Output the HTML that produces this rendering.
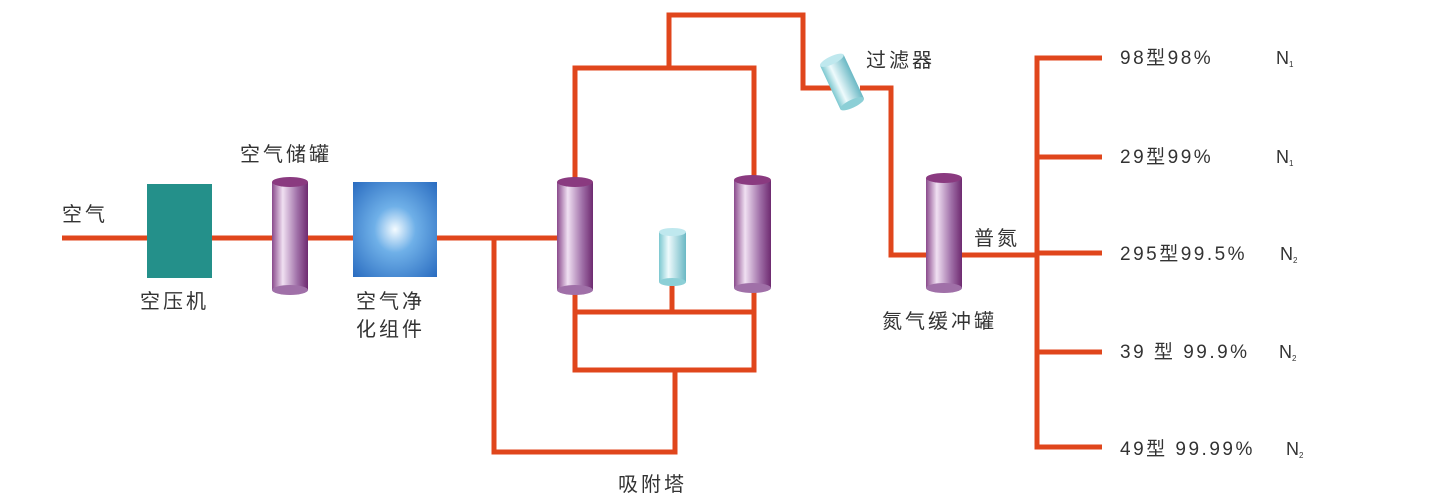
<!DOCTYPE html>
<html><head><meta charset="utf-8"><style>
html,body{margin:0;padding:0;background:#fff;}
svg{display:block;}
text{font-family:"Liberation Sans","Noto Sans CJK SC",sans-serif;fill:#333;}
</style></head><body>
<svg width="1430" height="500" viewBox="0 0 1430 500" xmlns="http://www.w3.org/2000/svg">
<defs>
<linearGradient id="pur" x1="0" x2="1" y1="0" y2="0">
<stop offset="0" stop-color="#8a4a8c"/><stop offset="0.3" stop-color="#f0e0f2"/><stop offset="0.7" stop-color="#a070a8"/><stop offset="1" stop-color="#6e2a70"/>
</linearGradient>
<linearGradient id="cy" x1="0" x2="1" y1="0" y2="0">
<stop offset="0" stop-color="#7cc8d0"/><stop offset="0.35" stop-color="#eefafc"/><stop offset="1" stop-color="#6ab8c4"/>
</linearGradient>
<radialGradient id="blue" cx="0.5" cy="0.5" r="0.7">
<stop offset="0" stop-color="#f4fbff"/><stop offset="0.35" stop-color="#6fb0e8"/><stop offset="1" stop-color="#2a6cc0"/>
</radialGradient>
</defs>
<g fill="none" stroke="#e0461c" stroke-width="5" stroke-linejoin="miter">
<line x1="62" y1="238" x2="557" y2="238"/>
<polyline points="494,238 494,452 675,452 675,370"/>
<polyline points="575,293 575,370 754,370 754,292"/>
<line x1="575" y1="312" x2="754" y2="312"/>
<line x1="672" y1="284" x2="672" y2="312"/>
<polyline points="575,180 575,68 754,68 754,178"/>
<polyline points="669,68 669,15 803,15 803,88 840,88"/>
<polyline points="860,88 891,88 891,255 1037,255"/>
<polyline points="1102,58 1037,58 1037,447 1102,447"/>
<line x1="1037" y1="157" x2="1102" y2="157"/>
<line x1="1037" y1="253" x2="1102" y2="253"/>
<line x1="1037" y1="352" x2="1102" y2="352"/>
</g>
<rect x="147" y="184" width="65" height="94" fill="#24908a"/>
<rect x="353" y="182" width="84" height="95" fill="url(#blue)"/>
<g>
<rect x="272" y="182" width="36" height="108" fill="url(#pur)"/><ellipse cx="290" cy="290" rx="18" ry="5" fill="#a070a8"/><ellipse cx="290" cy="182" rx="18" ry="5" fill="#8a3a80"/>
<rect x="557" y="182" width="36" height="108" fill="url(#pur)"/><ellipse cx="575" cy="290" rx="18" ry="5" fill="#a070a8"/><ellipse cx="575" cy="182" rx="18" ry="5" fill="#8a3a80"/>
<rect x="734" y="180" width="37" height="108" fill="url(#pur)"/><ellipse cx="752.5" cy="288" rx="18.5" ry="5" fill="#a070a8"/><ellipse cx="752.5" cy="180" rx="18.5" ry="5" fill="#8a3a80"/>
<rect x="926" y="178" width="36" height="110" fill="url(#pur)"/><ellipse cx="944" cy="288" rx="18" ry="5" fill="#a070a8"/><ellipse cx="944" cy="178" rx="18" ry="5" fill="#8a3a80"/>
<rect x="659" y="232" width="27" height="50" fill="url(#cy)"/><ellipse cx="672.5" cy="282" rx="13.5" ry="4" fill="#8ccfd6"/><ellipse cx="672.5" cy="232" rx="13.5" ry="4" fill="#bfe8ee"/>
<g transform="rotate(-25 842 82)"><rect x="829" y="58" width="26" height="48" fill="url(#cy)"/><ellipse cx="842" cy="106" rx="13" ry="4" fill="#8ccfd6"/><ellipse cx="842" cy="58" rx="13" ry="4" fill="#bfe8ee"/></g>
</g>
<g font-size="20" letter-spacing="3">
<text x="62" y="221">空气</text>
<text x="140" y="308">空压机</text>
<text x="240" y="161">空气储罐</text>
<text x="356" y="308">空气净</text>
<text x="356" y="336">化组件</text>
<text x="866" y="67">过滤器</text>
<text x="974" y="245">普氮</text>
<text x="882" y="328">氮气缓冲罐</text>
<text x="618" y="491">吸附塔</text>
</g>
<g font-size="19" letter-spacing="2.5">
<text x="1120" y="64">98型98%</text>
<text x="1120" y="163">29型99%</text>
<text x="1120" y="260">295型99.5%</text>
<text x="1120" y="358">39 型 99.9%</text>
<text x="1120" y="455">49型 99.99%</text>
</g>
<g font-size="18">
<text x="1276" y="64">N<tspan font-size="8" dy="3">1</tspan></text>
<text x="1276" y="163">N<tspan font-size="8" dy="3">1</tspan></text>
<text x="1280" y="260">N<tspan font-size="8" dy="3">2</tspan></text>
<text x="1279" y="358">N<tspan font-size="8" dy="3">2</tspan></text>
<text x="1286" y="455">N<tspan font-size="8" dy="3">2</tspan></text>
</g>
</svg>
</body></html>
